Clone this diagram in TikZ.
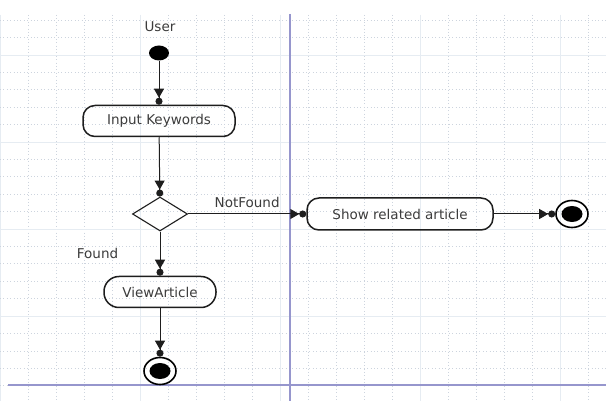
\documentclass[tikz,border=0pt]{standalone}
\usepackage{fontspec}
\setmainfont{DejaVu Sans}
\usepackage{xcolor}
\usetikzlibrary{arrows.meta,positioning,shapes.geometric}
\definecolor{lane}{RGB}{150,150,205}
\definecolor{gridminor}{RGB}{205,212,222}
\definecolor{gridmajor}{RGB}{230,236,242}
\definecolor{ink}{RGB}{30,30,30}
\definecolor{label}{RGB}{60,60,60}

\begin{document}
\begin{tikzpicture}[
    x=1pt, y=-1pt,
    font=\fontsize{13.5}{15}\selectfont,
    act/.style={draw=ink, line width=1.5pt, rounded corners=12pt, align=center,
                minimum width=152pt, minimum height=31pt, inner sep=2pt, text=label},
    choice/.style={draw=ink, line width=1.1pt, diamond, minimum width=55pt,
                   minimum height=34pt, inner sep=0pt},
    startdot/.style={fill=black, ellipse, minimum width=20pt, minimum height=15pt, inner sep=0pt},
    enddot/.style={draw=black, line width=1.6pt, ellipse, minimum width=32pt,
                   minimum height=27pt, inner sep=0pt,
                   path picture={\fill (path picture bounding box.center) ellipse (10.5pt and 8pt);}},
    txt/.style={text=label},
    arrow/.style={-{Triangle[length=9pt,width=10pt]Circle[length=7pt]}, line width=1pt, draw=ink},
    minorline/.style={gridminor, line width=0.6pt, dash pattern=on 0.8pt off 2.6pt},
    majorline/.style={gridmajor, line width=0.8pt}
  ]
    \useasboundingbox (0,0) rectangle (606,401);
    \fill[white] (0,0) rectangle (606,401);

    % grid
    \foreach \gx in {0,28,...,588}{
      \pgfmathtruncatemacro{\ismaj}{mod(\gx,140)==0}
      \ifnum\ismaj=1 \draw[majorline] (\gx,15) -- (\gx,401);
      \else \draw[minorline] (\gx,15) -- (\gx,401); \fi
    }
    \foreach \k in {-2,...,19}{
      \pgfmathsetmacro{\gy}{55+17.4*\k}
      \pgfmathtruncatemacro{\ismaj}{mod(\k+10,5)==0}
      \ifnum\ismaj=1 \draw[majorline] (0,\gy) -- (606,\gy);
      \else \draw[minorline] (0,\gy) -- (606,\gy); \fi
    }

    % swimlane borders
    \draw[lane, line width=2pt] (290,14) -- (290,401);
    \draw[lane, line width=2pt] (8,385) -- (606,385);

    \node[txt] (user) at (160,27) {User};
    \node[startdot] (start) at (159,53) {};
    \node[act] (input) at (159,121) {Input Keywords};
    \node[choice] (check) at (160,214) {};
    \node[act, minimum width=186pt, minimum height=32pt] (show) at (400,214) {Show related article};
    \node[enddot] (endright) at (572,214) {};
    \node[act, minimum width=112pt, rounded corners=15pt] (view) at (160,292) {ViewArticle};
    \node[enddot] (endbottom) at (160,371) {};

    \draw[arrow] (start) -- (input);
    \draw[arrow] (input) -- (check);
    \draw[arrow] (check.east) -- node[txt, midway, above=2pt] {NotFound} (show.west);
    \draw[arrow] (check.south) -- node[txt, midway, left=38pt] {Found} (view.north);
    \draw[arrow] (view) -- (endbottom);
    \draw[arrow] (show) -- (endright);
  \end{tikzpicture}
\end{document}
